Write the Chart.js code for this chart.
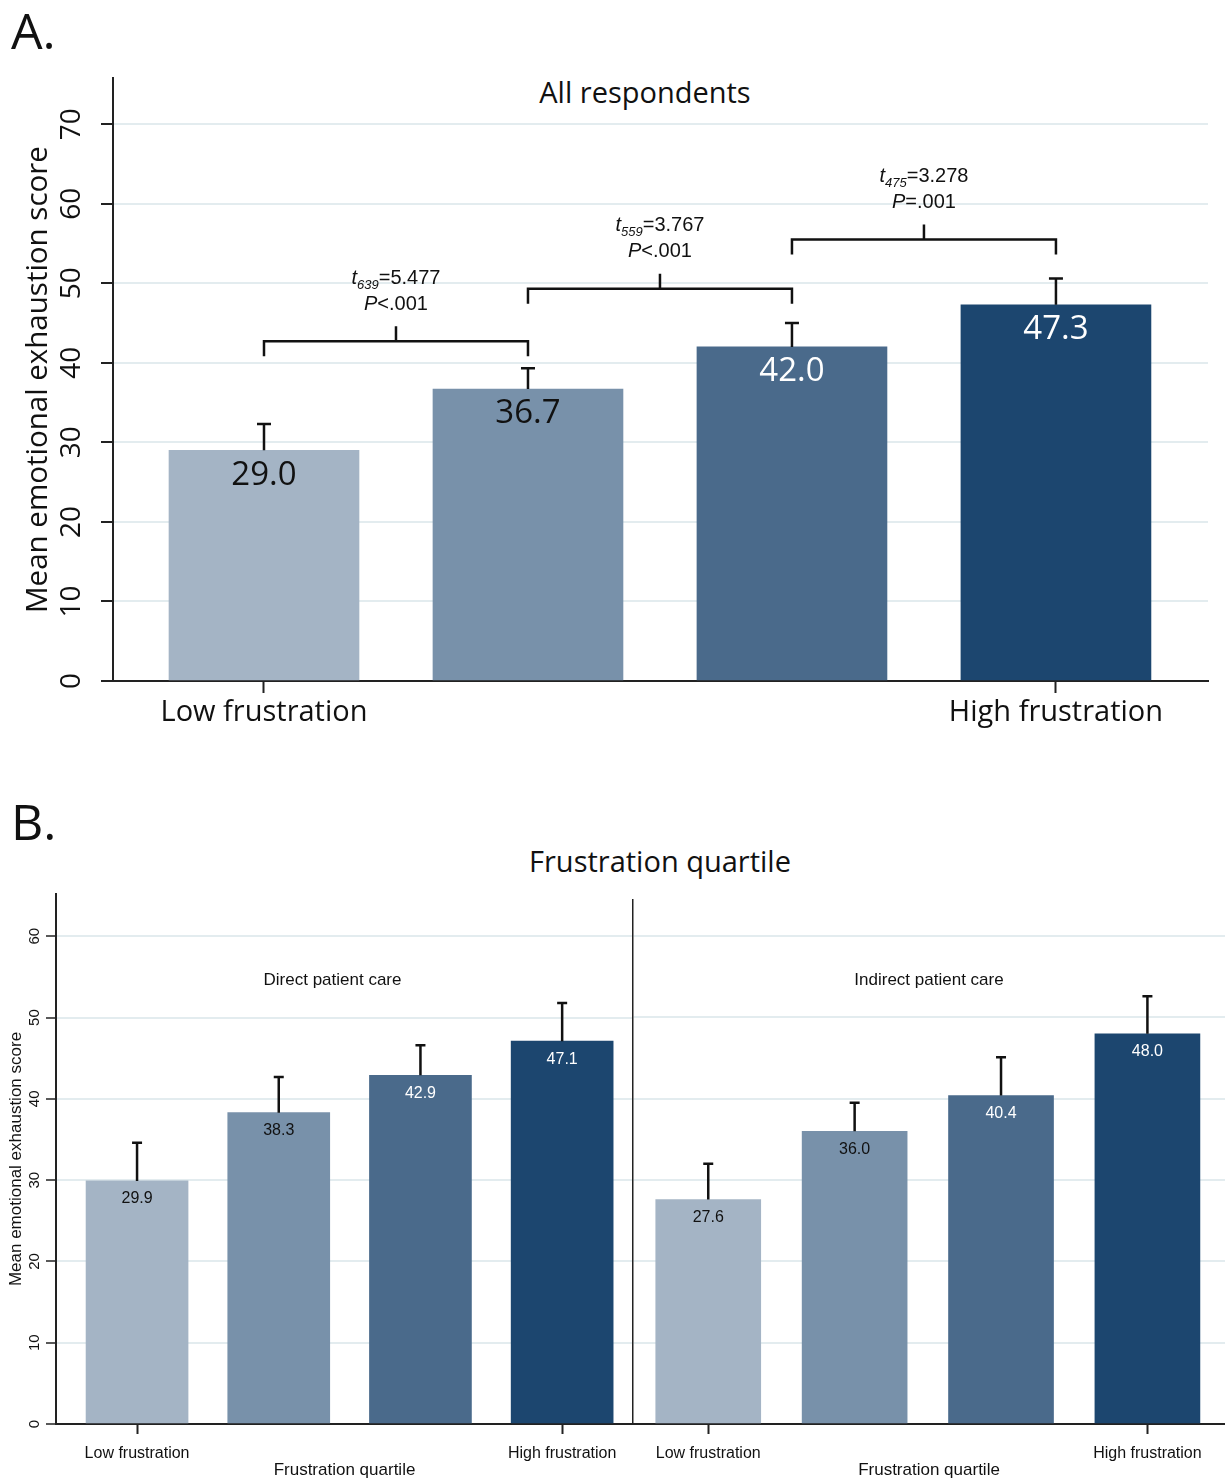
<!DOCTYPE html>
<html><head><meta charset="utf-8">
<script src="https://cdn.jsdelivr.net/npm/chart.js@4.4.1/dist/chart.umd.min.js"></script>
<style>
body{margin:0;background:#fff;width:1225px;height:1481px;position:relative;overflow:hidden}
canvas{position:absolute}
.lbl{position:absolute;font-family:'Open Sans',sans-serif;color:#111;white-space:nowrap;line-height:1}
</style></head><body>
<div class="lbl" style="left:11px;top:5px;font-size:50px">A.</div>
<div class="lbl" style="left:0;width:1290px;text-align:center;top:77px;font-size:29px">All respondents</div>
<div class="lbl" style="left:11px;top:796px;font-size:50px">B.</div>
<div class="lbl" style="left:0;width:1320px;text-align:center;top:846px;font-size:29px">Frustration quartile</div>
<canvas id="cA" width="1225" height="750" style="left:0;top:0"></canvas>
<canvas id="cBL" width="640" height="601" style="left:0;top:880px"></canvas>
<canvas id="cBR" width="605" height="601" style="left:620px;top:880px"></canvas>
<script>
// ---- data ----
const quartiles = [1, 2, 3, 4];
const xTickPositions = [1, 4];
const xTickLabels = ['Low frustration', 'High frustration'];
const allMeans = [29.0, 36.7, 42.0, 47.3];
const allUpper = [32.3, 39.3, 45.0, 50.6];
const directMeans = [29.9, 38.3, 42.9, 47.1];
const directUpper = [34.6, 42.7, 46.6, 51.8];
const indirectMeans = [27.6, 36.0, 40.4, 48.0];
const indirectUpper = [32.0, 39.5, 45.1, 52.6];
const yTicksA = [0, 10, 20, 30, 40, 50, 60, 70];
const yTicksB = [0, 10, 20, 30, 40, 50, 60];
const bracketFrom = [1, 2, 3];
const bracketTo = [2, 3, 4];
const bracketLevel = [42.7, 49.3, 55.5];
const bracketDf = ['639', '559', '475'];
const bracketT = ['=5.477', '=3.767', '=3.278'];
const bracketP = ['<.001', '<.001', '=.001'];
const barColors = ['#a4b4c5', '#7891aa', '#4a6a8b', '#1c466f'];
const labelColors = ['#111', '#111', '#fff', '#fff'];

const GRID = '#e3ecef', AX = '#222';

const barExtras = {
  id: 'barExtras',
  afterDatasetsDraw(chart, args, o) {
    const ctx = chart.ctx, ys = chart.scales.y;
    const meta = chart.getDatasetMeta(0);
    const ds = chart.data.datasets[0].data;
    ctx.save();
    meta.data.forEach((bar, i) => {
      const top = ys.getPixelForValue(o.upper[i]);
      ctx.strokeStyle = '#111'; ctx.lineWidth = o.errWidth;
      ctx.beginPath();
      ctx.moveTo(bar.x, bar.y); ctx.lineTo(bar.x, top);
      ctx.moveTo(bar.x - o.cap / 2, top); ctx.lineTo(bar.x + o.cap / 2, top);
      ctx.stroke();
      ctx.fillStyle = o.labelColors[i]; ctx.font = o.labelFont;
      ctx.textAlign = 'center'; ctx.textBaseline = 'middle';
      ctx.fillText(ds[i].y.toFixed(1), bar.x, bar.y + o.labelOffset);
    });
    if (o.subtitle) {
      ctx.fillStyle = '#111'; ctx.font = o.subtitleFont;
      ctx.textAlign = 'center'; ctx.textBaseline = 'middle';
      const ca = chart.chartArea;
      ctx.fillText(o.subtitle, (ca.left + ca.right) / 2 + (o.subtitleDx || 0), ca.top + o.subtitleDy);
    }
    if (o.yTickX !== undefined) {
      ctx.fillStyle = '#111'; ctx.font = o.yTickFont;
      ctx.textAlign = 'center'; ctx.textBaseline = 'middle';
      ys.ticks.forEach(t => {
        const py = ys.getPixelForValue(t.value);
        ctx.save(); ctx.translate(o.yTickX, py); ctx.rotate(-Math.PI / 2);
        ctx.fillText(String(t.value), 0, 0); ctx.restore();
      });
    }
    ctx.restore();
  }
};

function drawRich(ctx, pieces, cx, cy) {
  let w = 0;
  pieces.forEach(p => { ctx.font = p.font; p.w = ctx.measureText(p.t).width; w += p.w; });
  let x = cx - w / 2;
  ctx.textAlign = 'left'; ctx.textBaseline = 'middle';
  pieces.forEach(p => { ctx.font = p.font; ctx.fillText(p.t, x, cy + (p.dy || 0)); x += p.w; });
}

const brackets = {
  id: 'brackets',
  afterDatasetsDraw(chart, args, o) {
    const ctx = chart.ctx, xs = chart.scales.x, ys = chart.scales.y;
    ctx.save();
    ctx.strokeStyle = '#111'; ctx.lineWidth = 2.5; ctx.fillStyle = '#111';
    const F = "'Liberation Sans', Arial, sans-serif";
    bracketFrom.forEach((f, i) => {
      const x1 = xs.getPixelForValue(f), x2 = xs.getPixelForValue(bracketTo[i]);
      const y = ys.getPixelForValue(bracketLevel[i]);
      const mx = (x1 + x2) / 2;
      ctx.beginPath();
      ctx.moveTo(x1, y + 15); ctx.lineTo(x1, y); ctx.lineTo(x2, y); ctx.lineTo(x2, y + 15);
      ctx.moveTo(mx, y); ctx.lineTo(mx, y - 15);
      ctx.stroke();
      drawRich(ctx, [
        {t: 't', font: 'italic 20px ' + F},
        {t: bracketDf[i], font: 'italic 13px ' + F, dy: 7},
        {t: bracketT[i], font: '20px ' + F}
      ], mx, y - 63);
      drawRich(ctx, [
        {t: 'P', font: 'italic 20px ' + F},
        {t: bracketP[i], font: '20px ' + F}
      ], mx, y - 37);
    });
    ctx.restore();
  }
};

Chart.defaults.font.family = "'Liberation Sans', Arial, sans-serif";

// ---- Panel A ----
new Chart(document.getElementById('cA'), {
  type: 'bar',
  data: {datasets: [{data: quartiles.map((q, i) => ({x: q, y: allMeans[i]})), backgroundColor: barColors, barThickness: 190, borderWidth: 0}]},
  options: {
    responsive: false, animation: false, events: [],
    layout: {padding: {top: 78, right: 17, left: 0, bottom: 0}},
    plugins: {
      legend: {display: false}, tooltip: {enabled: false},
      barExtras: {upper: allUpper, errWidth: 2.5, cap: 14, labelColors: labelColors,
        labelFont: "33px 'Open Sans', sans-serif", labelOffset: 25,
        yTickX: 72, yTickFont: "28px 'Open Sans', sans-serif"}
    },
    scales: {
      x: {type: 'linear', min: 0.428, max: 4.576, offset: false,
        afterBuildTicks: s => { s.ticks = xTickPositions.map(v => ({value: v})); },
        afterFit: s => { s.height = 69; },
        grid: {offset: false, drawOnChartArea: false, drawTicks: true, tickLength: 12, tickWidth: 2, tickColor: AX},
        border: {color: AX, width: 2},
        ticks: {autoSkip: false, maxRotation: 0, minRotation: 0, padding: 2, color: '#111',
          font: {family: "'Open Sans', sans-serif", size: 29}, callback: (v, i) => xTickLabels[i]}},
      y: {type: 'linear', min: 0, max: 75.8,
        afterBuildTicks: s => { s.ticks = yTicksA.map(v => ({value: v})); },
        afterFit: s => { s.width = 113; },
        grid: {color: GRID, lineWidth: 2, tickColor: AX, tickLength: 12, tickWidth: 2},
        border: {color: AX, width: 2},
        ticks: {display: false},
        title: {display: true, text: 'Mean emotional exhaustion score', color: '#111',
          font: {family: "'Open Sans', sans-serif", size: 29.5}, padding: {top: 21, bottom: 0}}}
    }
  },
  plugins: [barExtras, brackets]
});

// ---- Panel B ----
function panelB(id, means, upper, subtitle, opts) {
  return new Chart(document.getElementById(id), {
    type: 'bar',
    data: {datasets: [{data: quartiles.map((q, i) => ({x: q, y: means[i]})), backgroundColor: barColors, barThickness: opts.barW, borderWidth: 0}]},
    options: {
      responsive: false, animation: false, events: [],
      layout: {padding: {top: opts.padTop, right: opts.padRight, left: 0, bottom: 0}},
      plugins: {
        legend: {display: false}, tooltip: {enabled: false},
        barExtras: Object.assign({upper: upper, errWidth: 2.5, cap: 10, labelColors: labelColors,
          labelFont: "16px 'Liberation Sans', Arial, sans-serif", labelOffset: 18,
          subtitle: subtitle, subtitleFont: "17px 'Liberation Sans', Arial, sans-serif",
          subtitleDy: opts.subDy, subtitleDx: opts.subDx}, opts.yTickX !== undefined ? {yTickX: opts.yTickX, yTickFont: "15px 'Liberation Sans', Arial, sans-serif"} : {})
      },
      scales: {
        x: {type: 'linear', min: opts.xmin, max: opts.xmax, offset: false,
          afterBuildTicks: s => { s.ticks = xTickPositions.map(v => ({value: v})); },
          afterFit: s => { s.height = 57; },
          grid: {offset: false, drawOnChartArea: false, drawTicks: true, tickLength: 10, tickWidth: 2, tickColor: AX},
          border: {color: AX, width: 2},
          ticks: {autoSkip: false, maxRotation: 0, minRotation: 0, padding: 10, color: '#111',
            font: {size: 16}, callback: (v, i) => xTickLabels[i]},
          title: {display: true, text: 'Frustration quartile', color: '#111', font: {size: 17}, padding: {top: 0, bottom: 0}}},
        y: {type: 'linear', min: 0, max: opts.ymax,
          afterBuildTicks: s => { s.ticks = yTicksB.map(v => ({value: v})); },
          afterFit: s => { s.width = opts.yW; },
          grid: {color: GRID, lineWidth: 2, tickColor: AX, tickLength: 10, tickWidth: 1.5, drawTicks: opts.yTicks},
          border: {color: AX, width: opts.yTicks ? 2 : 1.5},
          ticks: {display: false},
          title: {display: opts.yTicks, text: 'Mean emotional exhaustion score', color: '#111',
            font: {size: 17}, padding: {top: 6, bottom: 0}}}
      }
    },
    plugins: [barExtras]
  });
}

panelB('cBL', directMeans, directUpper, 'Direct patient care',
  {barW: 102, padTop: 14, padRight: 7, xmin: 0.428, xmax: 4.50, ymax: 65.2, yW: 56, yTicks: true, yTickX: 35, subDy: 86, subDx: -12});
panelB('cBR', indirectMeans, indirectUpper, 'Indirect patient care',
  {barW: 105, padTop: 20, padRight: 0, xmin: 0.486, xmax: 4.53, ymax: 64.45, yW: 13, yTicks: false, subDy: 80, subDx: 0});
</script>
</body></html>
